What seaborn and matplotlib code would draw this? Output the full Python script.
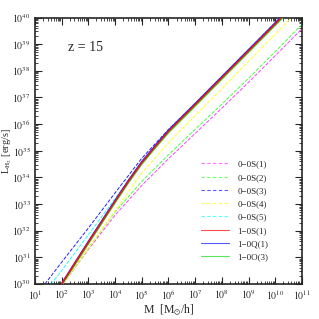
"""
H2 line luminosity vs halo mass at z=15, redrawn with seaborn.
"""
import matplotlib
matplotlib.use("Agg")
import matplotlib.pyplot as plt
import matplotlib.ticker as mticker
from matplotlib.lines import Line2D
import numpy as np
import seaborn as sns

# -----------------
# DATA (log10 values)
# -----------------
logm_s1_00 = [2.05, 3.0, 4.0, 5.0, 6.0, 7.0, 8.0, 9.0, 10.0, 11.0]
logl_s1_00 = [30.0, 31.3, 32.58, 33.7, 34.7, 35.65, 36.6, 37.57, 38.57, 39.58]

logm_s2_00 = [2.05, 3.0, 4.0, 5.0, 6.0, 7.0, 8.0, 9.0, 10.0, 11.0]
logl_s2_00 = [30.0, 31.35, 32.7, 33.85, 34.85, 35.8, 36.75, 37.72, 38.72, 39.74]

logm_s3_00 = [1.37, 2.0, 3.0, 4.0, 5.0, 6.0, 7.0, 8.0, 9.0, 10.0, 10.25]
logl_s3_00 = [30.0, 30.82, 32.1, 33.42, 34.72, 35.8, 36.78, 37.79, 38.8, 39.81, 40.06]

logm_s4_00 = [2.05, 3.0, 4.0, 5.0, 6.0, 7.0, 8.0, 9.0, 10.0, 10.65]
logl_s4_00 = [30.0, 31.34, 32.74, 34.16, 35.3, 36.32, 37.33, 38.36, 39.38, 40.04]

logm_s5_00 = [1.6, 2.0, 3.0, 4.0, 5.0, 6.0, 7.0, 8.0, 9.0, 10.0, 10.25]
logl_s5_00 = [30.0, 30.5, 31.85, 33.2, 34.6, 35.78, 36.78, 37.79, 38.8, 39.81, 40.06]

logm_10 = [2.0, 3.0, 4.0, 4.5, 5.0, 5.5, 6.0, 7.0, 8.0, 9.0, 10.0, 10.3]
logl_s1_10 = [30.0, 31.56, 33.1, 33.85, 34.55, 35.15, 35.73, 36.73, 37.74, 38.75, 39.76, 40.06]
logl_q1_10 = [30.02, 31.6, 33.14, 33.89, 34.59, 35.19, 35.77, 36.77, 37.78, 38.79, 39.8, 40.1]
logl_o3_10 = [29.96, 31.51, 33.05, 33.8, 34.5, 35.1, 35.68, 36.68, 37.69, 38.7, 39.71, 40.01]

labels = ["0\u22120S(1)", "0\u22120S(2)", "0\u22120S(3)", "0\u22120S(4)", "0\u22120S(5)",
          "1\u22120S(1)", "1\u22120Q(1)", "1\u22120O(3)"]

series = [
    (logm_s1_00, logl_s1_00, "#ff40ff", "--", 2),
    (logm_s2_00, logl_s2_00, "#40ff40", "--", 2),
    (logm_s3_00, logl_s3_00, "#2020ff", "--", 2),
    (logm_s4_00, logl_s4_00, "#ffff20", "--", 2),
    (logm_s5_00, logl_s5_00, "#20ffff", "--", 2),
    (logm_10, logl_s1_10, "#ff1010", "-", 5),
    (logm_10, logl_q1_10, "#2020ff", "-", 4),
    (logm_10, logl_o3_10, "#20e020", "-", 3),
]

# --------
# PLOTTING
# --------
sns.set_style("ticks")
plt.rcParams["font.family"] = ["Liberation Serif", "DejaVu Serif"]
plt.rcParams["mathtext.fontset"] = "stix"

fig = plt.figure(figsize=(3.19, 3.19), dpi=100)
ax = fig.add_axes([0.1097, 0.1097, 0.8370, 0.8354])

handles = []
for (lm, ll, col, ls, z), lab in zip(series, labels):
    lw = 1.1 if ls == "-" else 0.7
    sns.lineplot(x=10 ** np.array(lm), y=10 ** np.array(ll), ax=ax, color=col,
                 linestyle=ls, linewidth=lw, sort=False, zorder=z)
    # legend keys drawn a bit lighter, as in the original
    handles.append(Line2D([], [], color=col, linestyle=ls, linewidth=0.8, label=lab,
                          alpha=0.75, dashes=(3, 2.2) if ls == "--" else (None, None)))

ax.set_xscale("log")
ax.set_yscale("log")
ax.set_xlim(1e1, 1e11)
ax.set_ylim(1e30, 1e40)

fmt = mticker.FuncFormatter(lambda v, p: "$10^{%d}$" % round(np.log10(v)))
for axis in (ax.xaxis, ax.yaxis):
    axis.set_major_locator(mticker.LogLocator(base=10, numticks=20))
    axis.set_minor_locator(mticker.LogLocator(base=10, subs=np.arange(2, 10), numticks=20))
    axis.set_major_formatter(fmt)
    axis.set_minor_formatter(mticker.NullFormatter())

ax.tick_params(which="both", direction="in", top=True, right=True, labelsize=7, pad=3)
ax.tick_params(which="major", length=5, width=0.8)
ax.tick_params(which="minor", length=2.5, width=0.6)
for sp in ax.spines.values():
    sp.set_linewidth(1.2)

ax.set_xlabel(r"M  [M$_{\odot}$/h]", fontsize=8.5, labelpad=1)
ax.set_ylabel(r"L$_{\rm H_2}$ [erg/s]", fontsize=7.5)
ax.yaxis.set_label_coords(-0.08, 0.5)
ax.text(0.124, 0.886, "z = 15", transform=ax.transAxes, fontsize=10, va="center")

ax.legend(handles=handles, loc="upper left", bbox_to_anchor=(0.62, 0.465),
          frameon=False, fontsize=6.5, handlelength=3.2, labelspacing=0.55,
          handletextpad=0.9, borderaxespad=0, borderpad=0)

fig.savefig("out.png", dpi=100)
